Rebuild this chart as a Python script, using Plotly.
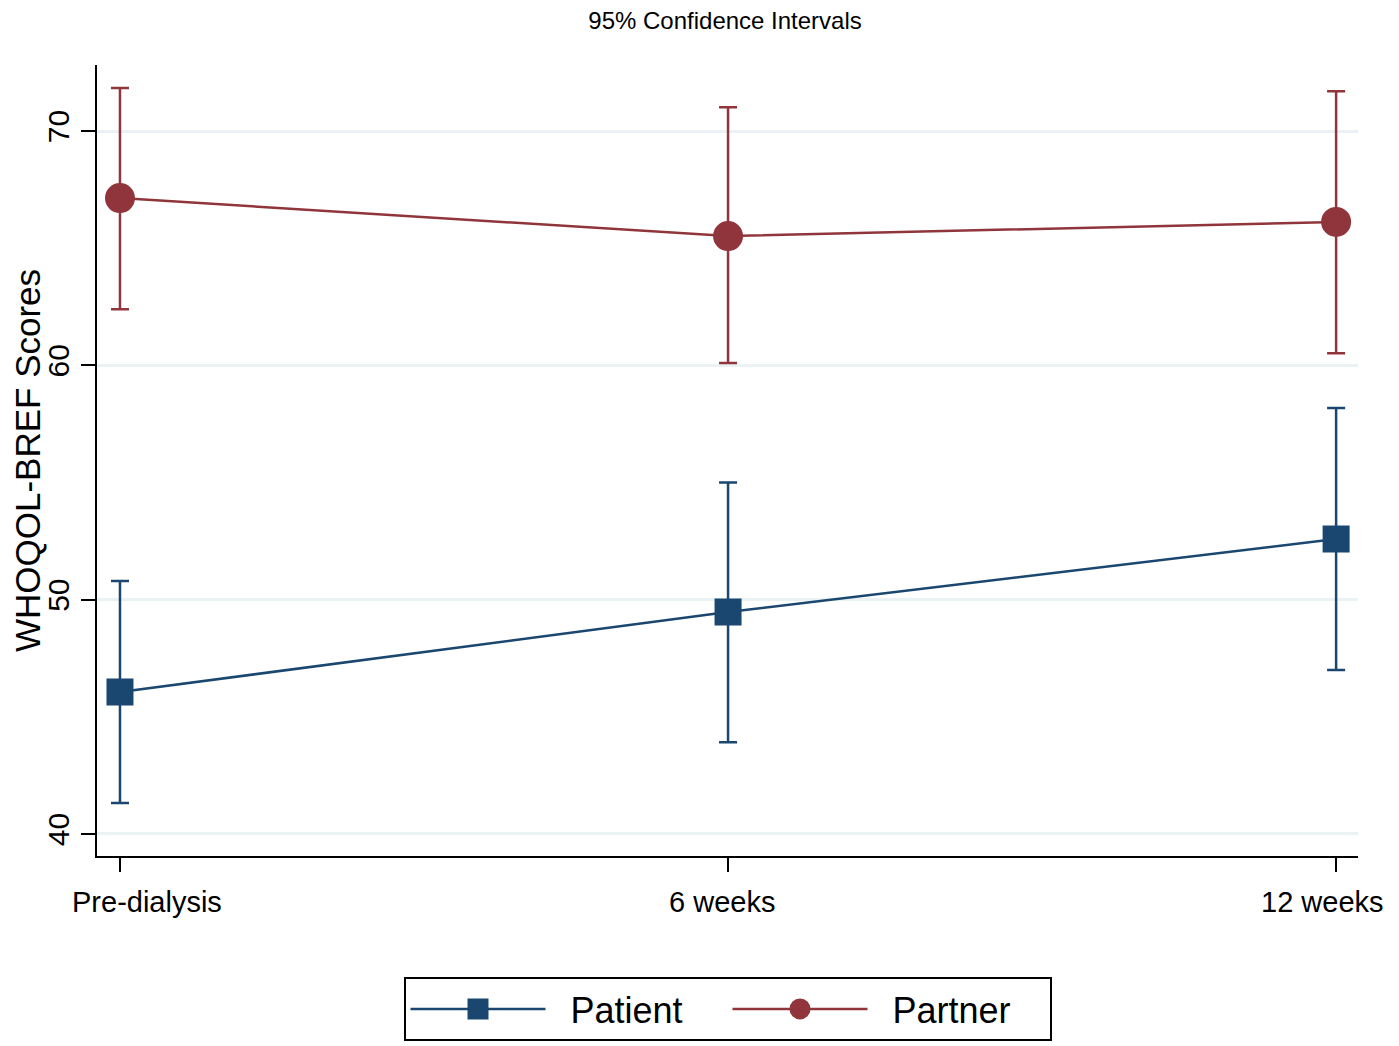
import plotly.graph_objects as go

categories = ["Pre-dialysis", "6 weeks", "12 weeks"]
x_pos = [0, 1, 2]

patient_mean = [46.06, 49.47, 52.59]
patient_upper = [50.8, 55.0, 58.18]
patient_lower = [41.32, 43.92, 47.0]

partner_mean = [67.14, 65.52, 66.12]
partner_upper = [71.84, 71.02, 71.7]
partner_lower = [62.4, 60.1, 60.52]

y_ticks = [40, 50, 60, 70]

PATIENT_COLOR = "#1a476f"
PARTNER_COLOR = "#90353b"
FONT = "Liberation Sans, Arial, sans-serif"

fig = go.Figure()

fig.add_trace(go.Scatter(
    x=x_pos, y=patient_mean, name="\u00a0\u00a0Patient", mode="lines+markers",
    line=dict(color=PATIENT_COLOR, width=2.5),
    marker=dict(symbol="square", size=22, color=PATIENT_COLOR,
                line=dict(color=PATIENT_COLOR, width=5)),
    error_y=dict(type="data", symmetric=False,
                 array=[u - m for u, m in zip(patient_upper, patient_mean)],
                 arrayminus=[m - l for m, l in zip(patient_mean, patient_lower)],
                 color=PATIENT_COLOR, thickness=2.5, width=9),
))

fig.add_trace(go.Scatter(
    x=x_pos, y=partner_mean, name="\u00a0\u00a0Partner", mode="lines+markers",
    line=dict(color=PARTNER_COLOR, width=2.5),
    marker=dict(symbol="circle", size=25, color=PARTNER_COLOR,
                line=dict(color=PARTNER_COLOR, width=5)),
    error_y=dict(type="data", symmetric=False,
                 array=[u - m for u, m in zip(partner_upper, partner_mean)],
                 arrayminus=[m - l for m, l in zip(partner_mean, partner_lower)],
                 color=PARTNER_COLOR, thickness=2.5, width=9),
))

# x tick labels as annotations anchored to the category positions (nudged like the original)
label_shifts = [27, -6, -14]
for xv, txt, dx in zip(x_pos, categories, label_shifts):
    fig.add_annotation(x=xv, xref="x", y=0, yref="paper", text=txt, showarrow=False,
                       xanchor="center", yanchor="middle", xshift=dx, yshift=-46,
                       font=dict(size=29, family=FONT, color="black"))

fig.update_layout(
    width=1391, height=1038,
    margin=dict(l=89, r=41, t=57, b=190, autoexpand=False),
    paper_bgcolor="white", plot_bgcolor="white",
    font=dict(family=FONT, color="black", size=30),
    title=dict(text="95% Confidence Intervals", x=0.5155, xanchor="center",
               y=0.996, yanchor="top", font=dict(size=24, family=FONT)),
    legend=dict(orientation="h", x=0.5, xanchor="center", y=-0.153, yanchor="top",
                bordercolor="black", borderwidth=2, bgcolor="white",
                font=dict(size=36, family=FONT), itemwidth=135,
                entrywidth=172, itemsizing="trace"),
    showlegend=True,
)

fig.update_xaxes(
    range=[-0.0378, 2.036], tickvals=x_pos, showticklabels=False,
    showgrid=False, zeroline=False, automargin=False,
    showline=True, linecolor="black", linewidth=2,
    ticks="outside", ticklen=14, tickwidth=2, tickcolor="black",
)

fig.update_yaxes(
    range=[39.06, 72.82], tickvals=y_ticks,
    showgrid=True, gridcolor="#eaf2f3", gridwidth=2.5, zeroline=False, automargin=False,
    showline=True, linecolor="black", linewidth=2,
    ticks="outside", ticklen=14, tickwidth=2, tickcolor="black",
    tickangle=-90, tickfont=dict(size=30, family=FONT),
    title=dict(text="WHOQOL-BREF Scores", font=dict(size=35, family=FONT), standoff=16),
)

fig.write_html("out.html")
